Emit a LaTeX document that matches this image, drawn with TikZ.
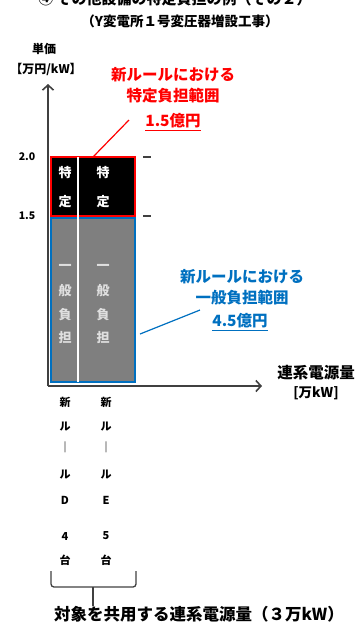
\documentclass[tikz,border=0pt]{standalone}
\usepackage{fontspec}
\newfontfamily\jp{Noto Sans CJK JP}
\usetikzlibrary{arrows.meta}
\definecolor{rred}{HTML}{FF0000}
\definecolor{bblue}{HTML}{0070C0}
\definecolor{ggray}{HTML}{7F7F7F}
\definecolor{axisc}{HTML}{404040}
\begin{document}
\begin{tikzpicture}[x=1pt,y=-1pt,
  every node/.style={inner sep=0pt,outer sep=0pt,font=\jp\bfseries\fontsize{12}{12}\selectfont},
  axisline/.style={draw=axisc,line width=2pt,-{Straight Barb[length=5pt,width=11pt,line width=1.6pt]}},
  redtxt/.style={text=rred,font=\jp\bfseries\fontsize{15.5}{15.5}\selectfont},
  bluetxt/.style={text=bblue,font=\jp\bfseries\fontsize{15.5}{15.5}\selectfont},
  vchar/.style={font=\jp\bfseries\fontsize{11}{11}\selectfont},
  barchar/.style={text=white,font=\jp\bfseries\fontsize{13}{13}\selectfont},
  graychar/.style={text=gray!25,font=\jp\bfseries\fontsize{13}{13}\selectfont},
  tickl/.style={draw=axisc,line width=1.2pt}]
\useasboundingbox (0,0) rectangle (363,627);
\clip (0,0) rectangle (363,627);
% title (cut off at top)
\node (title) at (175,-1) {\fontsize{15}{15}\selectfont ④ その他設備の特定負担の例（その２）};
\node (sub) at (180,21) {\fontsize{13.5}{13.5}\selectfont （Y変電所１号変圧器増設工事）};
% axis labels
\node (ylab1) at (44,49) {\fontsize{12}{12}\selectfont 単価};
\node (ylab2) at (46,69) {\fontsize{12}{12}\selectfont 【万円/kW】};
% boxes
\node[draw=rred,line width=2pt,fill=black,minimum width=84pt,minimum height=59pt,anchor=north west] (spec) at (51,157) {};
\node[draw=bblue,line width=2pt,fill=ggray,minimum width=84pt,minimum height=164pt,anchor=north west] (gen) at (51,218) {};
\coordinate (divtop) at (78,157);
\coordinate (divbot) at (78,382);
\draw[white,line width=1.5pt] (divtop) -- (divbot);
% axes
\coordinate (origin) at (48,386);
\coordinate (ytop) at (48,84);
\coordinate (xend) at (262,386);
\draw[axisline] (origin) -- (ytop);
\draw[axisline] (origin) -- (xend);
% ticks
\coordinate (t1a) at (143,157); \coordinate (t1b) at (151,157);
\coordinate (t2a) at (143,216); \coordinate (t2b) at (151,216);
\draw[tickl] (t1a) -- (t1b);
\draw[tickl] (t2a) -- (t2b);
\node (v20) at (27,157) {\fontsize{10.5}{10.5}\selectfont 2.0};
\node (v15) at (27,216) {\fontsize{10.5}{10.5}\selectfont 1.5};
% bar texts
\node[barchar] (s1a) at (65,173) {特};
\node[barchar] (s1b) at (65,202) {定};
\node[barchar] (s2a) at (103,173) {特};
\node[barchar] (s2b) at (103,202) {定};
\foreach \c/\yy/\nm in {一/267/a,般/291/b,負/315/c,担/338/d}{
  \node[graychar] (g1\nm) at (65,\yy) {\c};
  \node[graychar] (g2\nm) at (103,\yy) {\c};
}
% red annotation
\node[redtxt] (r1) at (173,75) {新ルールにおける};
\node[redtxt] (r2) at (173,96) {特定負担範囲};
\node[redtxt] (r3) at (173,122) {\underline{1.5億円}};
\coordinate (rl1) at (93,157);
\coordinate (rl2) at (129,120);
\draw[rred,line width=1.2pt] (rl1) -- (rl2);
% blue annotation
\node[bluetxt] (b1) at (242,277) {新ルールにおける};
\node[bluetxt] (b2) at (242,298) {一般負担範囲};
\node[bluetxt] (b3) at (240,322) {\underline{4.5億円}};
\coordinate (bl1) at (140,334);
\coordinate (bl2) at (200,310);
\draw[bblue,line width=1.2pt] (bl1) -- (bl2);
% x-axis label
\node (xlab1) at (316,373) {\fontsize{15.5}{15.5}\selectfont 連系電源量};
\node (xlab2) at (316,393) {\fontsize{13.5}{13.5}\selectfont [万kW]};
% vertical labels under bars
\foreach \c/\yy/\nm in {新/402/a,ル/427/b,｜/447/c,ル/475/d,D/500/e,4/536/f,台/560/g}{
  \node[vchar] (d\nm) at (65,\yy) {\c};
}
\foreach \c/\yy/\nm in {新/402/a,ル/427/b,｜/447/c,ル/475/d,E/500/e,5/536/f,台/560/g}{
  \node[vchar] (e\nm) at (106,\yy) {\c};
}
% brace
\coordinate (brl) at (51,571);
\coordinate (brr) at (136,571);
\coordinate (brm) at (93,587);
\coordinate (brt) at (93,606);
\draw[axisc,line width=1.3pt,rounded corners=3pt] (brl) |- (brm) -| (brr);
\draw[axisc,line width=1.3pt] (brm) -- (brt);
\node[anchor=west] (bottom) at (54,614) {\fontsize{16.5}{16.5}\selectfont 対象を共用する連系電源量（３万kW）};
\end{tikzpicture}
\end{document}
